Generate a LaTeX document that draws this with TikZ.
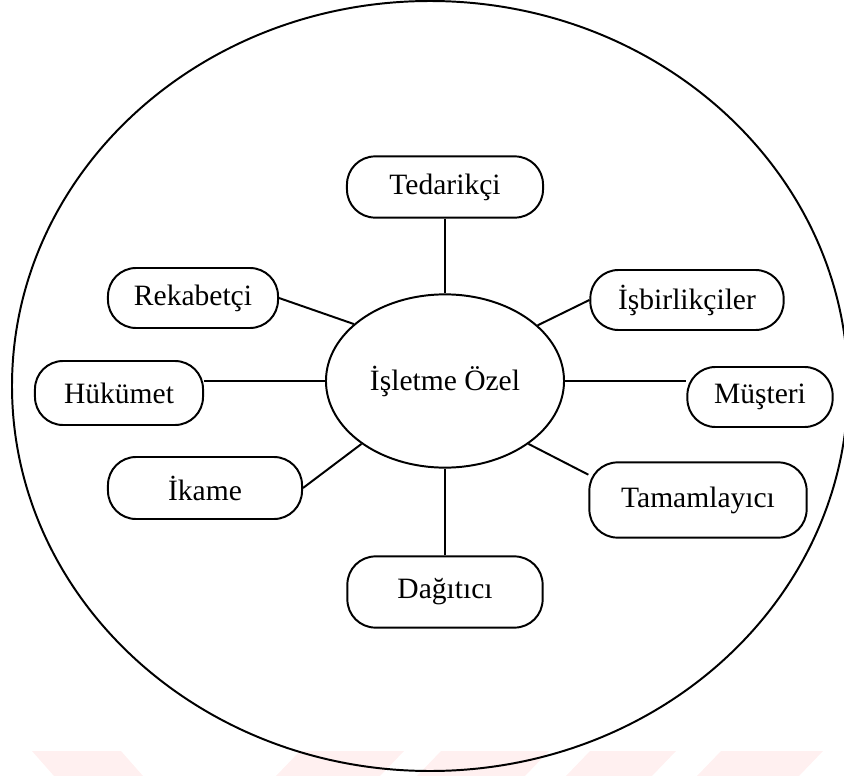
\documentclass[tikz,border=0pt]{standalone}
\usepackage{fontspec}
\setmainfont{Liberation Serif}
\usetikzlibrary{shapes.geometric}
\begin{document}
\begin{tikzpicture}[x=0.025cm,y=-0.025cm,line width=1.4pt,inner sep=0pt,
        kutu/.style={draw=black, rounded corners=20pt, font=\fontsize{21}{25}\selectfont},
        merkez/.style={draw=black, ellipse, font=\fontsize{21}{25}\selectfont}]
        \useasboundingbox (0,0) rectangle (844,776);

        \fill[red!6] (32,751) -- (121,751) -- (143,776) -- (54,776) -- cycle;
        \fill[red!6] (300,751) -- (404,751) -- (380,776) -- (276,776) -- cycle;
        \fill[red!6] (441,751) -- (549,751) -- (525,776) -- (417,776) -- cycle;
        \fill[red!6] (590,751) -- (676,751) -- (652,776) -- (566,776) -- cycle;
        \fill[red!6] (721,751) -- (823,751) -- (799,776) -- (697,776) -- cycle;

        \draw (430,386) ellipse [x radius=418, y radius=385];

        \node[merkez, minimum width=5.95cm, minimum height=4.33cm] (ozel) at (445,381) {İşletme Özel};

        \node[kutu, minimum width=4.9cm, minimum height=1.53cm] (ted) at (445,187) {Tedarikçi};
        \node[kutu, minimum width=4.25cm, minimum height=1.5cm] (rek) at (193,298) {Rekabetçi};
        \node[kutu, minimum width=4.83cm, minimum height=1.5cm] (isb) at (687,300) {İşbirlikçiler};
        \node[kutu, minimum width=4.2cm, minimum height=1.6cm] (huk) at (119,393) {Hükümet};
        \node[kutu, minimum width=3.63cm, minimum height=1.5cm] (mus) at (760,397) {Müşteri};
        \node[kutu, minimum width=4.85cm, minimum height=1.55cm] (ika) at (205,488) {İkame};
        \node[kutu, minimum width=5.43cm, minimum height=1.88cm] (tam) at (698,500) {Tamamlayıcı};
        \node[kutu, minimum width=4.88cm, minimum height=1.78cm] (dag) at (445,592) {Dağıtıcı};

        \draw (ted) -- (ozel);
        \draw (dag) -- (ozel);
        \draw (rek.east) -- (ozel.148);
        \draw (isb.west) -- (ozel.31);
        \draw (ika.east) -- (ozel.217);
        \draw (tam.167) -- (ozel.323);
        \draw (ozel.west) -- (ozel.west -| huk.east);
        \draw (ozel.east) -- (ozel.east -| mus.west);

\end{tikzpicture}
\end{document}
